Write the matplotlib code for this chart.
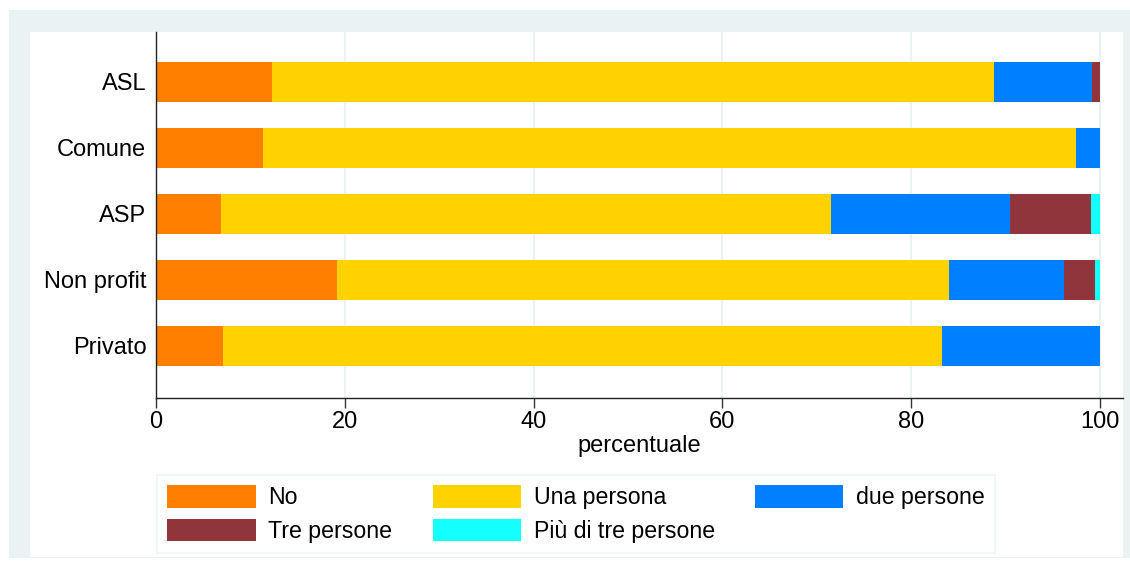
import matplotlib
matplotlib.use("Agg")
import matplotlib.pyplot as plt
from matplotlib.patches import Rectangle, Patch

plt.rcParams['font.family'] = ['Liberation Sans', 'DejaVu Sans']

categories = ["ASL", "Comune", "ASP", "Non profit", "Privato"]
series_names = ["No", "Una persona", "due persone", "Tre persone", "Più di tre persone"]
no_vals = [12.3, 11.3, 6.9, 19.2, 7.1]
una_vals = [76.5, 86.2, 64.6, 64.8, 76.2]
due_vals = [10.35, 2.5, 19.0, 12.2, 16.7]
tre_vals = [0.85, 0.0, 8.55, 3.3, 0.0]
piu_vals = [0.0, 0.0, 0.95, 0.5, 0.0]
x_ticks = [0, 20, 40, 60, 80, 100]

colors = ['#FF8000', '#FFD200', '#0080FF', '#90353B', '#14FFFF']
W, H = 1130, 569
FS = 17

fig = plt.figure(figsize=(W / 100, H / 100), dpi=100, facecolor='white')

# graph region (light band) and inner white area
fig.patches.append(Rectangle((9 / W, 1 - 558 / H), (W - 9) / W, (558 - 10) / H,
                             transform=fig.transFigure, facecolor='#EAF2F3',
                             edgecolor='none', zorder=-2))
fig.patches.append(Rectangle((30 / W, 1 - 557 / H), (1123 - 30) / W, (557 - 32) / H,
                             transform=fig.transFigure, facecolor='white',
                             edgecolor='none', zorder=-1))

ax = fig.add_axes([156 / W, 1 - 398 / H, (1123 - 156) / W, (398 - 32) / H])
ax.set_facecolor('none')

ypos = list(range(len(categories)))
left = [0.0] * len(categories)
for vals, col, name in zip([no_vals, una_vals, due_vals, tre_vals, piu_vals], colors, series_names):
    ax.barh(ypos, vals, left=left, height=0.62, color=col, edgecolor='none', label=name, zorder=2)
    left = [l + v for l, v in zip(left, vals)]

px = 9.44
ax.set_xlim(0, (1123 - 156) / px)
ax.set_ylim(4 + 52 / 66, -50 / 66)
ax.set_xticks(x_ticks)
ax.set_xticklabels([str(t) for t in x_ticks], fontsize=FS)
ax.set_yticks(ypos)
ax.set_yticklabels(categories, fontsize=FS)
ax.tick_params(axis='y', length=0, pad=7)
ax.tick_params(axis='x', length=7, width=1, color='#333333', pad=2)
for t in x_ticks[1:]:
    ax.axvline(t, color='#EAF2F3', lw=1.6, zorder=1)

for s in ['top', 'right']:
    ax.spines[s].set_visible(False)
for s in ['left', 'bottom']:
    ax.spines[s].set_color('#222222')
    ax.spines[s].set_linewidth(1)

ax.set_xlabel("percentuale", fontsize=FS, labelpad=2)

# row-major legend order for 3 columns
order = [0, 3, 1, 4, 2]
handles = [Patch(facecolor=colors[i], edgecolor='none') for i in order]
labels = [series_names[i] for i in order]
leg = fig.legend(handles, labels, loc='upper left',
                 bbox_to_anchor=(157 / W, 1 - 551 / H, (995 - 157) / W, (551 - 475) / H),
                 mode='expand', ncol=3, fontsize=16.7, frameon=True, fancybox=False,
                 handlelength=3.8, handleheight=1.1, handletextpad=0.55,
                 columnspacing=1.0, labelspacing=0.4, borderaxespad=0, borderpad=0.45)
leg.get_frame().set_edgecolor('#EAF2F3')
leg.get_frame().set_linewidth(1.2)

fig.savefig("out.png", dpi=100, facecolor='white')
